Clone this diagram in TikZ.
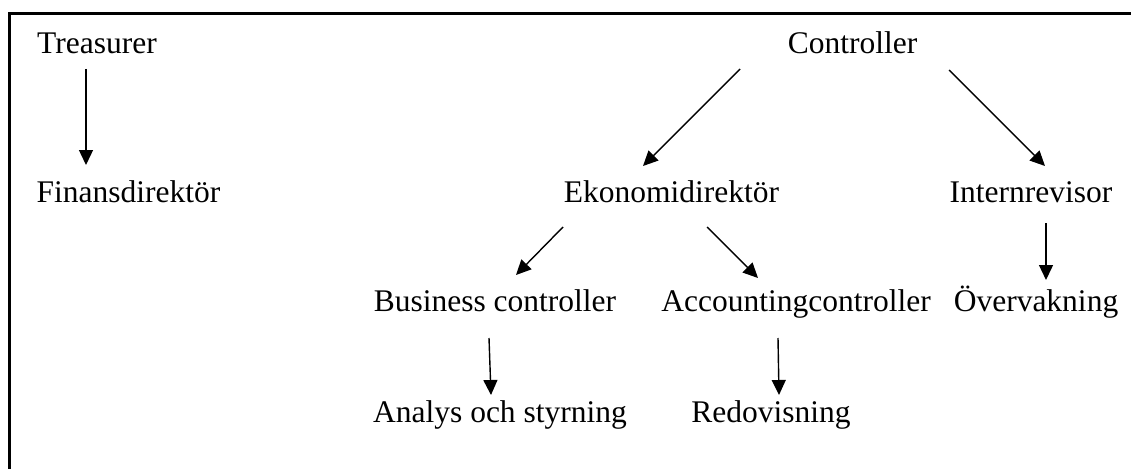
\documentclass[tikz,border=0pt]{standalone}
\usepackage{fontspec}
\setmainfont{Liberation Serif}
\usetikzlibrary{arrows.meta}
\tikzset{
  role/.style={anchor=base, inner sep=0pt, outer sep=0pt,
    font=\fontsize{31.5}{38}\selectfont},
  link/.style={line width=1.4pt, -{Triangle[length=15pt,width=14pt]}},
  frame/.style={line width=2.7pt}
}
\begin{document}
\begin{tikzpicture}[x=1pt, y=-1pt]
  \useasboundingbox (0,0) rectangle (1131,468);
  % open frame: only the left and top sides fall inside the page
  \begin{scope}
    \clip (0,0) rectangle (1131,468);
    \draw[frame] (9.7,480) |- (1140,13.3);
  \end{scope}

  % roles
  \node[role] (tr)  at (97,54)    {Treasurer};
  \node[role] (fin) at (128.5,202) {Finansdirektör};
  \node[role] (ctl) at (852.5,54) {Controller};
  \node[role] (eko) at (671.5,202) {Ekonomidirektör};
  \node[role] (int) at (1031,202) {Internrevisor};
  \node[role] (bus) at (495,311)  {Business controller};
  \node[role] (acc) at (796,311)  {Accountingcontroller};
  \node[role] (ove) at (1036,311) {Övervakning};
  \node[role] (ana) at (500,422)  {Analys och styrning};
  \node[role] (red) at (771,422)  {Redovisning};

  % reporting lines
  \draw[link] ([shift={(-11,15)}]tr.base)    -- ([shift={(-42.5,-37)}]fin.base);
  \draw[link] ([shift={(-112.5,15)}]ctl.base) -- ([shift={(-28.5,-36)}]eko.base);
  \draw[link] ([shift={(96.5,16)}]ctl.base)   -- ([shift={(14,-36)}]int.base);
  \draw[link] ([shift={(-108.5,25)}]eko.base) -- ([shift={(21,-36)}]bus.base);
  \draw[link] ([shift={(35.5,25)}]eko.base)   -- ([shift={(-38,-33)}]acc.base);
  \draw[link] ([shift={(15,21)}]int.base)     -- ([shift={(10,-31)}]ove.base);
  \draw[link] ([shift={(-6,27)}]bus.base)     -- ([shift={(-9,-27)}]ana.base);
  \draw[link] ([shift={(-18,27)}]acc.base)    -- ([shift={(8,-27)}]red.base);
\end{tikzpicture}
\end{document}
